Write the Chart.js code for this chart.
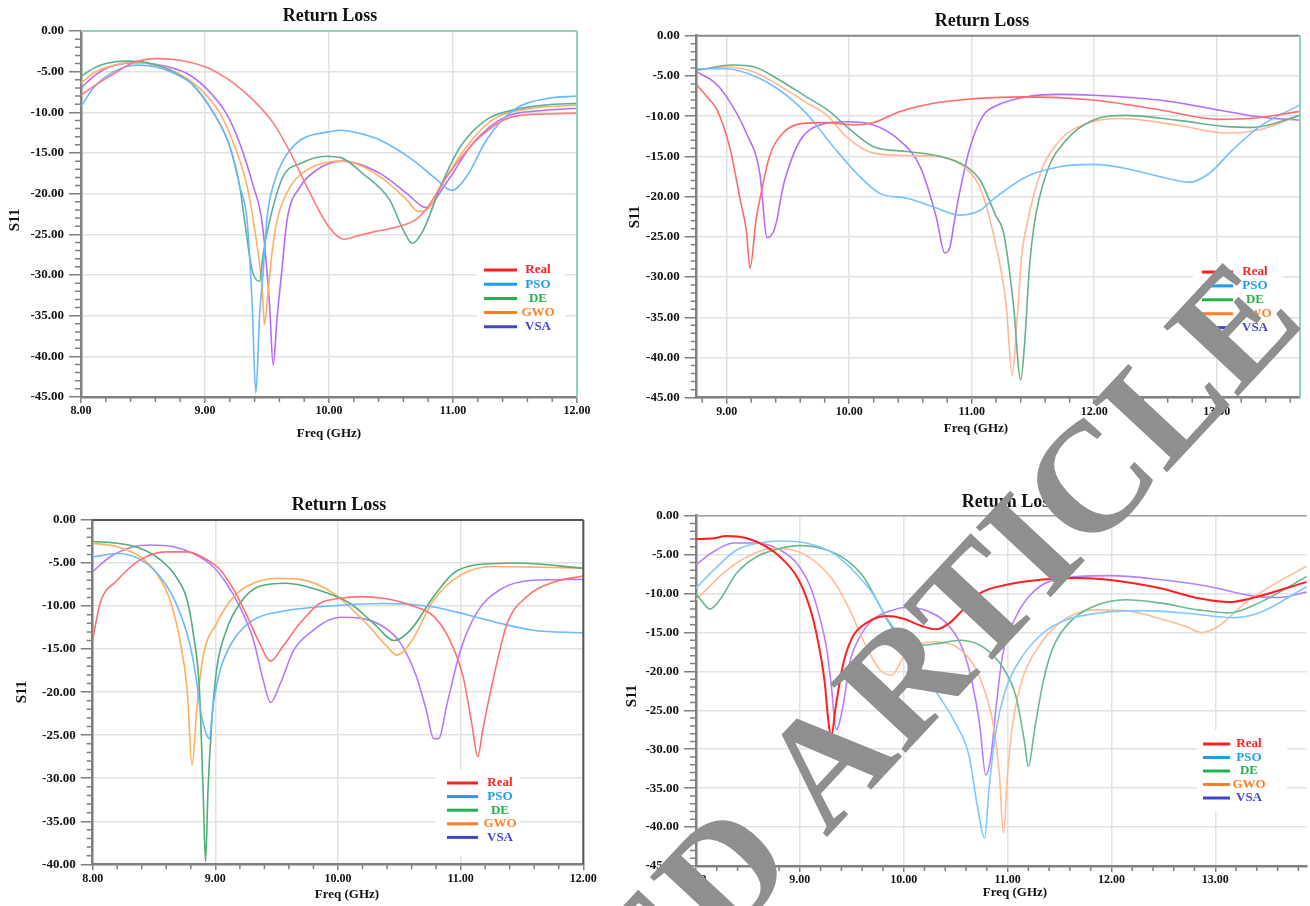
<!DOCTYPE html>
<html>
<head>
<meta charset="utf-8">
<title>Return Loss</title>
<script src="https://cdn.jsdelivr.net/npm/chart.js@4.4.1/dist/chart.umd.min.js"></script>
<style>
  html, body { margin: 0; background: #fff; }
  #sheet { position: relative; width: 1310px; height: 906px; overflow: hidden; }
  #sheet canvas { position: absolute; }
  #stamp { left: 0; top: 0; pointer-events: none; }
</style>
</head>
<body>
<div id="sheet">
  <canvas id="rl1"></canvas>
  <canvas id="rl2"></canvas>
  <canvas id="rl3"></canvas>
  <canvas id="rl4"></canvas>
  <canvas id="stamp" width="1310" height="906"></canvas>
</div>
<script>
const seriesNames = ['Real', 'PSO', 'DE', 'GWO', 'VSA'];
const legendColors = ['#ff2020', '#1e9cf0', '#22b14c', '#ff7f27', '#3f48cc'];

// S11 traces as [freq GHz, dB]
const p1Real = [[8.0,-7.9],[8.1,-6.8],[8.23,-5.6],[8.42,-3.9],[8.62,-3.4],[8.8,-3.6],[9.0,-4.4],[9.12,-5.3],[9.23,-6.4],[9.39,-8.5],[9.55,-11.3],[9.69,-15.0],[9.82,-19.1],[10.0,-24.1],[10.12,-25.6],[10.25,-25.1],[10.36,-24.7],[10.57,-24.0],[10.7,-23.2],[10.79,-21.8],[10.95,-17.9],[11.22,-13.0],[11.49,-10.5],[11.75,-10.2],[12.0,-10.1]];
const p1Pso = [[8.0,-9.3],[8.1,-7.0],[8.2,-5.6],[8.32,-4.6],[8.45,-4.2],[8.6,-4.4],[8.75,-5.2],[8.9,-6.6],[9.07,-10.1],[9.2,-14.2],[9.28,-19.1],[9.34,-23.4],[9.38,-33.5],[9.41,-44.5],[9.44,-35.1],[9.47,-29.4],[9.5,-23.0],[9.56,-18.5],[9.63,-15.9],[9.77,-13.4],[10.0,-12.4],[10.09,-12.2],[10.25,-12.6],[10.41,-13.4],[10.68,-15.9],[10.87,-18.3],[10.99,-19.6],[11.11,-17.9],[11.27,-13.4],[11.49,-9.7],[11.76,-8.3],[12.0,-8.0]];
const p1De = [[8.0,-5.6],[8.1,-4.6],[8.2,-4.0],[8.37,-3.7],[8.5,-3.8],[8.65,-4.4],[8.8,-5.5],[8.9,-6.6],[9.07,-10.1],[9.2,-14.2],[9.28,-19.1],[9.32,-23.4],[9.38,-29.4],[9.44,-30.8],[9.47,-27.3],[9.52,-23.4],[9.63,-17.9],[9.77,-16.3],[9.98,-15.4],[10.1,-15.6],[10.27,-17.5],[10.49,-20.8],[10.6,-24.5],[10.67,-26.1],[10.76,-24.5],[10.9,-19.1],[11.06,-14.2],[11.27,-10.9],[11.49,-9.7],[11.75,-9.1],[12.0,-8.9]];
const p1Gwo = [[8.0,-6.4],[8.1,-5.2],[8.2,-4.5],[8.4,-3.9],[8.55,-4.0],[8.7,-4.6],[8.85,-5.8],[8.96,-7.1],[9.12,-10.1],[9.23,-13.8],[9.34,-19.1],[9.39,-23.4],[9.46,-31.4],[9.48,-36.1],[9.5,-33.5],[9.54,-27.3],[9.58,-23.4],[9.69,-19.1],[9.82,-17.1],[10.0,-16.1],[10.11,-16.0],[10.41,-17.9],[10.63,-20.8],[10.72,-22.2],[10.8,-21.8],[10.95,-17.9],[11.11,-14.2],[11.32,-10.9],[11.6,-9.6],[12.0,-9.1]];
const p1Vsa = [[8.0,-7.0],[8.1,-5.6],[8.2,-4.6],[8.35,-4.0],[8.45,-3.9],[8.6,-4.1],[8.85,-5.2],[9.01,-7.05],[9.17,-10.1],[9.28,-13.8],[9.39,-19.1],[9.46,-23.5],[9.52,-33.5],[9.55,-41.1],[9.58,-35.5],[9.62,-29.4],[9.66,-23.4],[9.77,-19.1],[9.9,-17.1],[10.0,-16.3],[10.11,-16.0],[10.41,-17.5],[10.63,-20.0],[10.78,-21.7],[10.95,-18.6],[11.16,-13.8],[11.43,-10.5],[11.7,-9.8],[12.0,-9.5]];

const p2Real = [[8.755,-6.1],[8.85,-7.8],[8.92,-9.2],[9.03,-14.2],[9.11,-20.4],[9.16,-24.2],[9.19,-28.9],[9.24,-22.9],[9.27,-20.4],[9.35,-15.0],[9.46,-12.1],[9.62,-10.9],[9.82,-10.8],[10.06,-11.1],[10.2,-10.8],[10.41,-9.45],[10.69,-8.4],[10.9,-8.0],[11.17,-7.7],[11.45,-7.6],[11.99,-8.0],[12.53,-9.2],[13.02,-10.4],[13.27,-10.3],[13.68,-9.4]];
const p2Pso = [[8.755,-4.1],[9.0,-4.1],[9.24,-5.1],[9.43,-6.75],[9.65,-9.65],[9.87,-13.8],[10.06,-17.1],[10.25,-19.6],[10.47,-20.2],[10.69,-21.3],[10.9,-22.3],[11.07,-21.7],[11.17,-20.4],[11.45,-17.5],[11.72,-16.3],[11.99,-16.0],[12.26,-16.5],[12.53,-17.5],[12.78,-18.2],[12.94,-17.1],[13.13,-14.2],[13.35,-11.3],[13.68,-8.6]];
const p2De = [[8.755,-4.3],[9.05,-3.65],[9.22,-3.85],[9.43,-5.5],[9.65,-7.6],[9.82,-9.2],[10.01,-11.7],[10.2,-13.8],[10.47,-14.4],[10.74,-15.0],[10.96,-16.3],[11.07,-18.0],[11.2,-22.5],[11.26,-24.5],[11.34,-33.3],[11.4,-42.8],[11.43,-38.7],[11.47,-29.1],[11.51,-23.5],[11.61,-17.1],[11.77,-13.0],[11.99,-10.5],[12.26,-9.9],[12.67,-10.5],[13.08,-11.3],[13.3,-11.4],[13.68,-9.9]];
const p2Gwo = [[8.755,-4.2],[9.0,-3.9],[9.22,-4.5],[9.43,-6.2],[9.65,-8.3],[9.82,-9.9],[9.98,-12.6],[10.2,-14.6],[10.47,-14.9],[10.69,-15.0],[10.9,-15.9],[11.07,-19.0],[11.17,-24.2],[11.28,-33.3],[11.33,-42.2],[11.37,-35.4],[11.41,-27.1],[11.45,-23.5],[11.56,-17.1],[11.72,-13.0],[11.94,-10.9],[12.21,-10.3],[12.67,-11.1],[13.08,-12.1],[13.35,-11.7],[13.68,-9.9]];
const p2Vsa = [[8.755,-4.5],[8.9,-5.8],[9.0,-7.6],[9.16,-12.1],[9.27,-17.1],[9.33,-25.1],[9.38,-24.4],[9.41,-22.9],[9.45,-19.5],[9.49,-17.1],[9.6,-13.0],[9.76,-11.1],[9.98,-10.7],[10.2,-11.1],[10.41,-13.0],[10.58,-16.3],[10.71,-22.5],[10.78,-27.0],[10.82,-26.4],[10.86,-22.9],[10.9,-19.6],[10.98,-14.2],[11.09,-10.0],[11.2,-8.7],[11.45,-7.6],[11.72,-7.3],[11.99,-7.4],[12.53,-8.0],[13.0,-9.2],[13.35,-10.1],[13.68,-10.5]];

const p3Real = [[8.0,-13.9],[8.06,-9.7],[8.2,-7.0],[8.39,-4.6],[8.6,-3.7],[8.77,-3.7],[8.93,-4.6],[9.04,-5.8],[9.15,-8.1],[9.26,-11.2],[9.36,-14.3],[9.45,-16.4],[9.55,-14.7],[9.69,-12.0],[9.85,-9.7],[10.02,-9.1],[10.18,-8.9],[10.37,-9.1],[10.59,-9.9],[10.78,-11.2],[10.91,-13.9],[11.02,-18.2],[11.09,-23.6],[11.14,-27.5],[11.18,-24.4],[11.27,-18.2],[11.38,-12.0],[11.54,-8.9],[11.76,-7.2],[12.0,-6.5]];
const p3Pso = [[8.0,-4.3],[8.2,-3.9],[8.39,-4.6],[8.55,-6.6],[8.68,-9.7],[8.79,-14.3],[8.85,-19.0],[8.87,-21.3],[8.9,-23.6],[8.93,-25.0],[8.95,-25.4],[8.98,-21.7],[9.04,-17.4],[9.15,-13.9],[9.31,-11.6],[9.55,-10.6],[9.83,-10.1],[10.02,-9.9],[10.37,-9.7],[10.78,-10.1],[11.05,-11.0],[11.32,-12.0],[11.59,-12.8],[12.0,-13.1]];
const p3De = [[8.0,-2.5],[8.2,-2.7],[8.39,-3.3],[8.55,-4.6],[8.68,-6.6],[8.77,-9.3],[8.82,-13.2],[8.87,-19.7],[8.9,-31.4],[8.92,-39.7],[8.94,-31.4],[8.97,-23.6],[9.01,-17.4],[9.09,-12.8],[9.2,-9.7],[9.36,-7.7],[9.58,-7.35],[9.83,-8.1],[10.1,-9.7],[10.29,-12.0],[10.46,-14.0],[10.59,-12.8],[10.78,-8.9],[10.94,-6.2],[11.13,-5.2],[11.46,-5.0],[12.0,-5.6]];
const p3Gwo = [[8.0,-2.7],[8.2,-3.1],[8.39,-4.3],[8.52,-6.2],[8.63,-9.3],[8.71,-13.9],[8.77,-19.7],[8.81,-28.5],[8.85,-21.7],[8.9,-15.9],[9.01,-12.0],[9.15,-8.9],[9.31,-7.35],[9.5,-6.8],[9.69,-6.9],[9.96,-8.5],[10.23,-12.0],[10.4,-14.7],[10.48,-15.7],[10.59,-14.3],[10.78,-9.3],[11.0,-6.4],[11.27,-5.4],[12.0,-5.6]];
const p3Vsa = [[8.0,-6.0],[8.14,-4.3],[8.33,-3.1],[8.47,-2.9],[8.66,-3.1],[8.82,-3.9],[8.98,-5.4],[9.09,-7.35],[9.2,-10.1],[9.31,-13.9],[9.39,-18.6],[9.45,-21.2],[9.53,-19.0],[9.64,-15.1],[9.8,-12.8],[9.93,-11.6],[10.02,-11.3],[10.18,-11.4],[10.37,-12.4],[10.51,-14.3],[10.64,-18.2],[10.72,-22.1],[10.78,-25.4],[10.82,-25.4],[10.89,-21.3],[11.0,-15.1],[11.13,-10.8],[11.32,-8.1],[11.59,-7.0],[12.0,-6.9]];

const p4Real = [[8.0,-3.0],[8.17,-2.9],[8.29,-2.6],[8.49,-2.9],[8.68,-4.0],[8.81,-5.3],[8.97,-7.8],[9.06,-10.4],[9.13,-13.4],[9.19,-17.2],[9.24,-21.5],[9.27,-25.8],[9.3,-28.4],[9.35,-24.1],[9.42,-18.9],[9.51,-15.5],[9.64,-13.8],[9.83,-12.9],[9.99,-13.2],[10.18,-14.2],[10.31,-14.6],[10.44,-13.8],[10.54,-12.5],[10.73,-10.0],[10.98,-8.9],[11.34,-8.2],[11.66,-8.0],[12.01,-8.3],[12.46,-9.3],[12.84,-10.6],[13.13,-11.1],[13.35,-10.6],[13.88,-8.5]];
const p4Pso = [[8.0,-9.3],[8.17,-7.0],[8.39,-4.4],[8.61,-3.5],[8.81,-3.25],[9.06,-3.5],[9.32,-4.8],[9.51,-7.0],[9.7,-10.0],[9.83,-13.0],[9.99,-16.0],[10.15,-19.4],[10.34,-23.2],[10.5,-26.7],[10.63,-30.9],[10.71,-37.4],[10.78,-41.4],[10.82,-35.2],[10.89,-27.5],[10.98,-22.4],[11.14,-18.1],[11.34,-15.1],[11.56,-13.4],[11.88,-12.5],[12.3,-12.2],[12.78,-12.6],[13.16,-13.1],[13.42,-12.5],[13.88,-9.1]];
const p4De = [[8.0,-10.0],[8.07,-11.2],[8.13,-12.0],[8.23,-10.8],[8.39,-7.4],[8.58,-5.3],[8.81,-4.2],[9.0,-3.85],[9.26,-4.4],[9.45,-5.7],[9.61,-7.8],[9.74,-10.8],[9.86,-13.8],[9.99,-16.0],[10.12,-16.7],[10.34,-16.4],[10.54,-16.0],[10.73,-16.6],[10.85,-17.8],[10.95,-19.4],[11.08,-23.2],[11.16,-28.8],[11.2,-32.2],[11.26,-27.5],[11.34,-21.5],[11.43,-17.2],[11.59,-13.8],[11.82,-11.7],[12.14,-10.8],[12.46,-11.2],[12.84,-12.1],[13.13,-12.5],[13.42,-11.2],[13.88,-7.8]];
const p4Gwo = [[8.0,-10.8],[8.1,-9.5],[8.26,-7.4],[8.49,-5.3],[8.74,-4.2],[8.93,-4.4],[9.13,-5.7],[9.32,-8.3],[9.48,-12.1],[9.61,-16.0],[9.77,-19.8],[9.88,-20.5],[10.02,-17.7],[10.28,-16.2],[10.5,-16.8],[10.66,-18.9],[10.73,-20.7],[10.86,-26.7],[10.92,-33.1],[10.96,-40.8],[11.0,-33.1],[11.05,-26.7],[11.14,-21.1],[11.3,-16.8],[11.5,-13.8],[11.82,-12.1],[12.14,-12.2],[12.46,-13.2],[12.71,-14.2],[12.87,-15.0],[13.03,-14.2],[13.29,-11.2],[13.58,-8.7],[13.88,-6.5]];
const p4Vsa = [[8.0,-6.3],[8.17,-4.6],[8.36,-3.5],[8.58,-3.5],[8.81,-4.4],[8.97,-6.1],[9.1,-9.1],[9.19,-13.0],[9.26,-17.2],[9.3,-21.5],[9.35,-27.5],[9.42,-24.1],[9.48,-18.9],[9.58,-15.5],[9.7,-13.4],[9.9,-12.1],[10.02,-11.8],[10.22,-12.2],[10.41,-13.8],[10.57,-17.2],[10.66,-21.5],[10.73,-26.7],[10.79,-33.3],[10.84,-30.9],[10.89,-24.5],[10.95,-18.1],[11.08,-13.0],[11.27,-9.5],[11.56,-8.0],[11.98,-7.7],[12.46,-8.2],[12.94,-9.1],[13.35,-10.3],[13.61,-10.5],[13.88,-9.8]];

// axis ranges per panel
const xRanges = [[8, 12], [8.755, 13.68], [8, 12], [8, 13.88]];
const yFloors = [-45, -45, -40, -45];

const SERIF = '"Liberation Serif", "Times New Roman", serif';
const Y_AXIS_W = 60;
const X_AXIS_H = 30;

const panels = [
  {
    canvas: 'rl1', box: [0, 0, 640, 450], area: [81, 31, 577, 397],
    traces: [p1Real, p1Pso, p1De, p1Gwo, p1Vsa],
    colors: ['#ff7b7b', '#6ab8ff', '#5fae98', '#ffb062', '#b66bff'],
    title: [330, 16], yTitle: [15, 220], xTitle: [329, 434],
    legend: { box: [477, 261, 88, 76], line: [484, 517], text: 538, top: 270, step: 14.2 },
    frame: { top: '#93d1b4', right: '#93d1b4', width: 2 }
  },
  {
    canvas: 'rl2', box: [625, 0, 685, 450], area: [696.7, 35.7, 1300, 397.7],
    traces: [p2Real, p2Pso, p2De, p2Gwo, p2Vsa],
    colors: ['#ff6b6b', '#77c0ff', '#66b08a', '#ffb896', '#b56bff'],
    title: [357, 21], yTitle: [10, 217], xTitle: [351, 429],
    legend: { box: [568, 262, 90, 76], line: [577, 608], text: 630, top: 272, step: 13.9 },
    frame: { top: '#8a8a8a', right: '#93d1b4', width: 2 }
  },
  {
    canvas: 'rl3', box: [0, 470, 640, 436], area: [92.7, 520, 583.3, 864.3],
    traces: [p3Real, p3Pso, p3De, p3Gwo, p3Vsa],
    colors: ['#ff7070', '#6ab8ff', '#4fae7a', '#ffae5c', '#b47aff'],
    title: [339, 35], yTitle: [22, 222], xTitle: [347, 425],
    legend: { box: [435, 300, 85, 86], line: [447, 478], text: 500, top: 313, step: 13.6 },
    frame: { top: '#555555', right: '#555555', width: 2 }
  },
  {
    canvas: 'rl4', box: [625, 470, 685, 436], area: [696, 515.7, 1306.7, 866],
    traces: [p4Real, p4Pso, p4De, p4Gwo, p4Vsa],
    colors: ['#ff1f1f', '#80c8ff', '#6cb890', '#ffbd96', '#b57fff'],
    title: [384, 32], yTitle: [7, 226], xTitle: [390, 423],
    legend: { box: [572, 260, 90, 82], line: [578, 605], text: 624, top: 274, step: 13.5 },
    frame: { top: '#a0a0a0', right: null, width: 1.5 }
  }
];

// titles, minor ticks, frame edges and the in-plot legend
function makeDecor(p) {
  return {
    id: 'panelDecor',
    afterDatasetsDraw(chart) {
      const ctx = chart.ctx;
      const lg = p.legend;
      ctx.save();
      ctx.fillStyle = '#ffffff';
      ctx.fillRect(lg.box[0], lg.box[1], lg.box[2], lg.box[3]);
      ctx.font = 'bold 13px ' + SERIF;
      ctx.textAlign = 'center';
      ctx.textBaseline = 'middle';
      chart.data.datasets.forEach((ds, k) => {
        const y = lg.top + k * lg.step;
        ctx.strokeStyle = legendColors[k];
        ctx.lineWidth = 3;
        ctx.beginPath();
        ctx.moveTo(lg.line[0], y);
        ctx.lineTo(lg.line[1], y);
        ctx.stroke();
        ctx.fillStyle = legendColors[k];
        ctx.fillText(ds.label, lg.text, y);
      });
      ctx.restore();
    },
    afterDraw(chart) {
      const ctx = chart.ctx;
      const a = chart.chartArea;
      const xs = chart.scales.x;
      const ys = chart.scales.y;
      ctx.save();

      ctx.strokeStyle = '#808080';
      ctx.lineWidth = 1.5;
      ctx.beginPath();
      for (let i = Math.ceil(ys.min); i <= ys.max; i++) {
        if (i % 5 === 0) continue;
        const py = ys.getPixelForValue(i);
        ctx.moveTo(a.left - 6, py);
        ctx.lineTo(a.left, py);
      }
      for (let i = Math.ceil(xs.min * 5); i <= Math.floor(xs.max * 5); i++) {
        if (i % 5 === 0) continue;
        const px = xs.getPixelForValue(i / 5);
        ctx.moveTo(px, a.bottom);
        ctx.lineTo(px, a.bottom + 5);
      }
      ctx.stroke();

      ctx.lineWidth = p.frame.width;
      ctx.strokeStyle = p.frame.top;
      ctx.beginPath();
      ctx.moveTo(a.left, a.top);
      ctx.lineTo(a.right, a.top);
      ctx.stroke();
      if (p.frame.right) {
        ctx.strokeStyle = p.frame.right;
        ctx.beginPath();
        ctx.moveTo(a.right, a.top);
        ctx.lineTo(a.right, a.bottom);
        ctx.stroke();
      }

      ctx.fillStyle = '#111111';
      ctx.textAlign = 'center';
      ctx.textBaseline = 'middle';
      ctx.font = 'bold 18px ' + SERIF;
      ctx.fillText('Return Loss', p.title[0], p.title[1]);
      ctx.font = 'bold 13px ' + SERIF;
      ctx.fillText('Freq (GHz)', p.xTitle[0], p.xTitle[1]);
      ctx.font = 'bold 15px ' + SERIF;
      ctx.translate(p.yTitle[0], p.yTitle[1]);
      ctx.rotate(-Math.PI / 2);
      ctx.fillText('S11', 0, 0);
      ctx.restore();
    }
  };
}

panels.forEach((p, i) => {
  const [bx, by, bw, bh] = p.box;
  const [l, t, r, b] = p.area;
  const el = document.getElementById(p.canvas);
  el.width = bw;
  el.height = bh;
  el.style.left = bx + 'px';
  el.style.top = by + 'px';

  new Chart(el, {
    type: 'line',
    data: {
      datasets: p.traces.map((pts, k) => ({
        label: seriesNames[k],
        data: pts.map(([x, y]) => ({ x, y })),
        borderColor: p.colors[k],
        borderWidth: (i === 3 && k === 0) ? 2 : 1.6,
        pointRadius: 0,
        cubicInterpolationMode: 'monotone',
        fill: false
      }))
    },
    options: {
      responsive: false,
      animation: false,
      events: [],
      layout: {
        padding: {
          left: l - bx - Y_AXIS_W,
          top: t - by,
          right: bx + bw - r,
          bottom: by + bh - b - X_AXIS_H
        }
      },
      plugins: {
        legend: { display: false },
        tooltip: { enabled: false }
      },
      scales: {
        x: {
          type: 'linear',
          min: xRanges[i][0],
          max: xRanges[i][1],
          afterFit: s => { s.height = X_AXIS_H; },
          ticks: {
            stepSize: 1,
            includeBounds: false,
            autoSkip: false,
            maxRotation: 0,
            padding: 1,
            color: '#111111',
            font: { family: SERIF, size: 12, weight: 'bold' },
            callback: v => v.toFixed(2)
          },
          grid: { color: '#e2e2e2', lineWidth: 1.5, tickLength: 6, tickColor: '#808080' },
          border: { color: '#808080', width: 2.5 }
        },
        y: {
          type: 'linear',
          min: yFloors[i],
          max: 0,
          afterFit: s => { s.width = Y_AXIS_W; },
          ticks: {
            stepSize: 5,
            padding: 5,
            color: '#111111',
            font: { family: SERIF, size: 13, weight: 'bold' },
            callback: v => v.toFixed(2)
          },
          grid: { color: '#e2e2e2', lineWidth: 1.5, tickLength: 12, tickColor: '#808080' },
          border: { color: '#808080', width: 2.5 }
        }
      }
    },
    plugins: [makeDecor(p)]
  });
});

// diagonal stamp across the sheet, placed by the centre of its last letter
const stamp = document.getElementById('stamp').getContext('2d');
const STAMP_TEXT = 'RETRACTED ARTICLE';
const STAMP_SIZE = 156;
stamp.font = 'bold ' + STAMP_SIZE + 'px ' + SERIF;
stamp.fillStyle = '#8f8f8f';
const fullW = stamp.measureText(STAMP_TEXT).width;
const lastHalf = stamp.measureText('E').width / 2;
stamp.translate(1234, 325);
stamp.rotate(-47 * Math.PI / 180);
stamp.textBaseline = 'alphabetic';
stamp.fillText(STAMP_TEXT, -(fullW - lastHalf), STAMP_SIZE * 0.33);
</script>
</body>
</html>
